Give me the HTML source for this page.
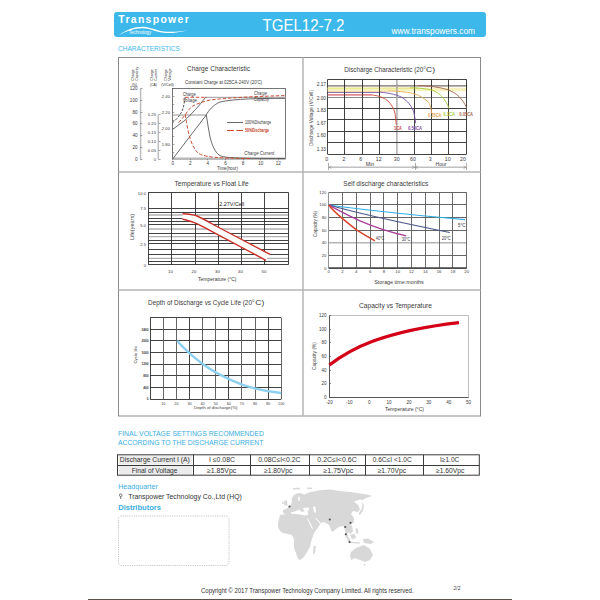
<!DOCTYPE html>
<html><head><meta charset="utf-8">
<style>
html,body{margin:0;padding:0;background:#fff;}
body{width:600px;height:600px;overflow:hidden;position:relative;font-family:"Liberation Sans",sans-serif;}
svg{position:absolute;left:0;top:0;}
</style></head><body>
<svg width="600" height="600" viewBox="0 0 600 600" font-family="'Liberation Sans', sans-serif">
<rect x="88" y="599" width="424" height="1" fill="#5a524a"/>
<rect x="114" y="12" width="372" height="25" rx="3" fill="#3db8ea"/>
<text x="262.5" y="31.2" font-size="16.5" fill="#fff" textLength="82" lengthAdjust="spacingAndGlyphs">TGEL12-7.2</text>
<text x="391.5" y="33.5" font-size="8.3" fill="#fff" textLength="83.5" lengthAdjust="spacingAndGlyphs">www.transpowers.com</text>
<g transform="translate(118.3,0) scale(0.92,1)">
<text x="0" y="23.4" font-size="11.4" fill="#fff" font-weight="bold" textLength="76.6" lengthAdjust="spacing">Transpower</text>
</g>
<path d="M119,35 C126,30 135,26.5 143,26.8 C152,27.2 158,31.5 167,31.8 C175,32 181,31 187,30.4 C181,31.8 175,33 167,33 C157,32.8 151,28.6 143,28.3 C135,28 127,31 119,35 Z" fill="#fff"/>
<text x="128.7" y="33.6" font-size="5.0" fill="#fff" textLength="22.6" lengthAdjust="spacingAndGlyphs">Technology</text>
<text x="118" y="51.3" font-size="7.6" fill="#3db8ea" textLength="62" lengthAdjust="spacingAndGlyphs">CHARACTERISTICS</text>
<rect x="118.5" y="57.5" width="362" height="358.5" fill="none" stroke="#8a8a8a" stroke-width="1"/>
<line x1="303" y1="57.5" x2="303" y2="416" stroke="#b4b4b4" stroke-width="1.5"/>
<line x1="118.5" y1="172" x2="480.5" y2="172" stroke="#b4b4b4" stroke-width="1.5"/>
<line x1="118.5" y1="290" x2="480.5" y2="290" stroke="#b4b4b4" stroke-width="1.5"/>
<text x="187" y="71" font-size="7.4" fill="#3a3a3a" textLength="63" lengthAdjust="spacingAndGlyphs">Charge Characteristic</text>
<text x="185" y="84" font-size="4.64" fill="#3a3a3a" textLength="77" lengthAdjust="spacingAndGlyphs">Constant Charge at 025CA-240V  (20'C)</text>
<text transform="translate(133.8,80.8) rotate(-90)" x="0" y="0" font-size="4.3" fill="#2a2a2a" text-anchor="start" textLength="11.6" lengthAdjust="spacingAndGlyphs">Charge</text>
<text transform="translate(138.3,80.8) rotate(-90)" x="0" y="0" font-size="4.3" fill="#2a2a2a" text-anchor="start" textLength="14.1" lengthAdjust="spacingAndGlyphs">Capacity</text>
<text x="131.7" y="86.3" font-size="4.3" fill="#2a2a2a" textLength="5.3" lengthAdjust="spacingAndGlyphs">(%)</text>
<text transform="translate(153.2,80.8) rotate(-90)" x="0" y="0" font-size="4.3" fill="#2a2a2a" text-anchor="start" textLength="11.6" lengthAdjust="spacingAndGlyphs">Charge</text>
<text transform="translate(157.2,80.8) rotate(-90)" x="0" y="0" font-size="4.3" fill="#2a2a2a" text-anchor="start" textLength="11.6" lengthAdjust="spacingAndGlyphs">Current</text>
<text x="150" y="86.3" font-size="4.3" fill="#2a2a2a" textLength="7" lengthAdjust="spacingAndGlyphs">(CA)</text>
<text transform="translate(167.4,80.8) rotate(-90)" x="0" y="0" font-size="4.3" fill="#2a2a2a" text-anchor="start" textLength="11.6" lengthAdjust="spacingAndGlyphs">Charge</text>
<text transform="translate(171.4,80.8) rotate(-90)" x="0" y="0" font-size="4.3" fill="#2a2a2a" text-anchor="start" textLength="12.5" lengthAdjust="spacingAndGlyphs">Voltage</text>
<text x="161.3" y="86.3" font-size="4.3" fill="#2a2a2a" textLength="12.4" lengthAdjust="spacingAndGlyphs">(V/Cell)</text>
<line x1="140.6" y1="88.5" x2="140.6" y2="159.5" stroke="#bdbdbd" stroke-width="1.5"/>
<line x1="140.3" y1="88.5" x2="142.3" y2="88.5" stroke="#666" stroke-width="0.6"/>
<text x="137.5" y="90.1" font-size="4.6" fill="#3a3a3a" text-anchor="end">120</text>
<line x1="140.3" y1="100.5" x2="142.3" y2="100.5" stroke="#666" stroke-width="0.6"/>
<text x="137.5" y="101.85" font-size="4.6" fill="#3a3a3a" text-anchor="end">100</text>
<line x1="140.3" y1="112.5" x2="142.3" y2="112.5" stroke="#666" stroke-width="0.6"/>
<text x="137.5" y="113.6" font-size="4.6" fill="#3a3a3a" text-anchor="end">80</text>
<line x1="140.3" y1="123.5" x2="142.3" y2="123.5" stroke="#666" stroke-width="0.6"/>
<text x="137.5" y="125.35" font-size="4.6" fill="#3a3a3a" text-anchor="end">60</text>
<line x1="140.3" y1="135.5" x2="142.3" y2="135.5" stroke="#666" stroke-width="0.6"/>
<text x="137.5" y="137.1" font-size="4.6" fill="#3a3a3a" text-anchor="end">40</text>
<line x1="140.3" y1="147.5" x2="142.3" y2="147.5" stroke="#666" stroke-width="0.6"/>
<text x="137.5" y="148.85" font-size="4.6" fill="#3a3a3a" text-anchor="end">20</text>
<line x1="140.3" y1="159.5" x2="142.3" y2="159.5" stroke="#666" stroke-width="0.6"/>
<text x="137.5" y="160.6" font-size="4.6" fill="#3a3a3a" text-anchor="end">0</text>
<line x1="158.3" y1="114.7" x2="158.3" y2="159.5" stroke="#bdbdbd" stroke-width="1.5"/>
<line x1="158.7" y1="114.5" x2="160.5" y2="114.5" stroke="#666" stroke-width="0.6"/>
<text x="156" y="116.2" font-size="4.2" fill="#3a3a3a" text-anchor="end">0.25</text>
<line x1="158.7" y1="123.5" x2="160.5" y2="123.5" stroke="#666" stroke-width="0.6"/>
<text x="156" y="125.10000000000001" font-size="4.2" fill="#3a3a3a" text-anchor="end">0.20</text>
<line x1="158.7" y1="132.5" x2="160.5" y2="132.5" stroke="#666" stroke-width="0.6"/>
<text x="156" y="134.0" font-size="4.2" fill="#3a3a3a" text-anchor="end">0.15</text>
<line x1="158.7" y1="141.5" x2="160.5" y2="141.5" stroke="#666" stroke-width="0.6"/>
<text x="156" y="142.9" font-size="4.2" fill="#3a3a3a" text-anchor="end">0.10</text>
<line x1="158.7" y1="150.5" x2="160.5" y2="150.5" stroke="#666" stroke-width="0.6"/>
<text x="156" y="151.8" font-size="4.2" fill="#3a3a3a" text-anchor="end">0.05</text>
<line x1="158.7" y1="159.5" x2="160.5" y2="159.5" stroke="#666" stroke-width="0.6"/>
<text x="156" y="160.7" font-size="4.2" fill="#3a3a3a" text-anchor="end">0</text>
<rect x="172.5" y="88.5" width="113" height="70.5" fill="none" stroke="#555" stroke-width="0.8"/>
<line x1="172.5" y1="96.5" x2="174.3" y2="96.5" stroke="#666" stroke-width="0.6"/>
<text x="170" y="97.8" font-size="4.2" fill="#3a3a3a" text-anchor="end">2.40</text>
<line x1="172.5" y1="112.5" x2="174.3" y2="112.5" stroke="#666" stroke-width="0.6"/>
<text x="170" y="113.8" font-size="4.2" fill="#3a3a3a" text-anchor="end">2.20</text>
<line x1="172.5" y1="128.5" x2="174.3" y2="128.5" stroke="#666" stroke-width="0.6"/>
<text x="170" y="129.8" font-size="4.2" fill="#3a3a3a" text-anchor="end">2.00</text>
<line x1="172.5" y1="144.5" x2="174.3" y2="144.5" stroke="#666" stroke-width="0.6"/>
<text x="170" y="145.8" font-size="4.2" fill="#3a3a3a" text-anchor="end">1.80</text>
<line x1="172.5" y1="104.5" x2="174.3" y2="104.5" stroke="#666" stroke-width="0.6"/>
<line x1="172.5" y1="120.5" x2="174.3" y2="120.5" stroke="#666" stroke-width="0.6"/>
<line x1="172.5" y1="136.5" x2="174.3" y2="136.5" stroke="#666" stroke-width="0.6"/>
<line x1="172.5" y1="152.5" x2="174.3" y2="152.5" stroke="#666" stroke-width="0.6"/>
<line x1="172.5" y1="159" x2="172.5" y2="160.3" stroke="#666" stroke-width="0.6"/>
<text x="172.7" y="164.5" font-size="4.6" fill="#3a3a3a" text-anchor="middle">0</text>
<line x1="190.5" y1="159" x2="190.5" y2="160.3" stroke="#666" stroke-width="0.6"/>
<text x="190.29999999999998" y="164.5" font-size="4.6" fill="#3a3a3a" text-anchor="middle">2</text>
<line x1="207.5" y1="159" x2="207.5" y2="160.3" stroke="#666" stroke-width="0.6"/>
<text x="207.89999999999998" y="164.5" font-size="4.6" fill="#3a3a3a" text-anchor="middle">4</text>
<line x1="225.5" y1="159" x2="225.5" y2="160.3" stroke="#666" stroke-width="0.6"/>
<text x="225.5" y="164.5" font-size="4.6" fill="#3a3a3a" text-anchor="middle">6</text>
<line x1="243.5" y1="159" x2="243.5" y2="160.3" stroke="#666" stroke-width="0.6"/>
<text x="243.1" y="164.5" font-size="4.6" fill="#3a3a3a" text-anchor="middle">8</text>
<line x1="260.5" y1="159" x2="260.5" y2="160.3" stroke="#666" stroke-width="0.6"/>
<text x="260.7" y="164.5" font-size="4.6" fill="#3a3a3a" text-anchor="middle">10</text>
<line x1="278.5" y1="159" x2="278.5" y2="160.3" stroke="#666" stroke-width="0.6"/>
<text x="278.3" y="164.5" font-size="4.6" fill="#3a3a3a" text-anchor="middle">12</text>
<text x="217" y="169.5" font-size="4.75" fill="#3a3a3a" textLength="21" lengthAdjust="spacingAndGlyphs">Time(hour)</text>
<line x1="172.7" y1="115" x2="206" y2="115" stroke="#b8b8b8" stroke-width="1.6"/>
<line x1="205" y1="97.3" x2="285.5" y2="97.3" stroke="#b0b0b0" stroke-width="1.3"/>
<line x1="172.5" y1="158.3" x2="285.5" y2="158.3" stroke="#b8b8b8" stroke-width="1.4"/>
<path d="M172.7,159 L206,115.3 C209,110 213,105 220,102 C235,98.6 260,98.4 285,98.4" stroke="#444" stroke-width="0.8" fill="none"/>
<path d="M172.7,129.3 L185.3,120 C192,113.5 199,106 205.5,97.4" stroke="#444" stroke-width="0.8" fill="none"/>
<path d="M206.3,115 C207.5,122 208.5,130 210,137 C212,145 215,152 219,155 C224,158 232,158.3 285,158.5" stroke="#444" stroke-width="0.8" fill="none"/>
<path d="M172.7,122.7 C175,120.5 179,117 182,111.3 C183.5,108 184.5,102 185,97.3" stroke="#3a3a3a" stroke-width="0.85" fill="none" stroke-dasharray="2.5,1.3"/>
<path d="M178.7,122.7 L185.3,114.7 C187,112 189,109 192,106.5 C196,104 202,102 210,100 C230,97.6 260,96.2 285,95.6" stroke="#c8472c" stroke-width="0.95" fill="none" stroke-dasharray="3.5,1.8"/>
<path d="M185.2,97.3 L207,97.3" stroke="#c8472c" stroke-width="0.95" fill="none" stroke-dasharray="3.5,1.8"/>
<path d="M185.3,114.7 C186.5,122 188,132 190,138 C192,145 195,150 198,153 C202,156 210,157.2 225,158 L250,158.5" stroke="#c8472c" stroke-width="0.95" fill="none" stroke-dasharray="3.5,1.8"/>
<line x1="227" y1="122.5" x2="243" y2="122.5" stroke="#444" stroke-width="0.8"/>
<text x="245" y="124.2" font-size="4.5" fill="#333" textLength="26" lengthAdjust="spacingAndGlyphs">100%Discharge</text>
<line x1="227" y1="130.5" x2="243" y2="130.5" stroke="#c8472c" stroke-width="1.1" stroke-dasharray="7,2.5"/>
<text x="245" y="132.4" font-size="4.5" fill="#c03a22" font-weight="bold" textLength="24" lengthAdjust="spacingAndGlyphs">50%Discharge</text>
<text x="254" y="94.7" font-size="4.54" fill="#3a3a3a" textLength="13" lengthAdjust="spacingAndGlyphs" font-style="italic">Charge</text>
<text x="254" y="100.9" font-size="4.54" fill="#3a3a3a" textLength="15" lengthAdjust="spacingAndGlyphs" font-style="italic">Capacity</text>
<text x="182.7" y="95.7" font-size="4.75" fill="#3a3a3a" textLength="13" lengthAdjust="spacingAndGlyphs">Charge</text>
<text x="182.7" y="102" font-size="4.75" fill="#3a3a3a" textLength="14.3" lengthAdjust="spacingAndGlyphs">Voltage</text>
<text x="244.3" y="155.3" font-size="4.64" fill="#3a3a3a" textLength="30" lengthAdjust="spacingAndGlyphs" font-style="italic">Charge Current</text>
<text x="344.3" y="72.3" font-size="7.4" fill="#3a3a3a" textLength="79" lengthAdjust="spacingAndGlyphs">Discharge Characteristic (20</text>
<text x="423.5" y="68.5" font-size="3.78" fill="#3a3a3a">0</text>
<text x="426" y="72.3" font-size="7.4" fill="#3a3a3a" textLength="9" lengthAdjust="spacingAndGlyphs">C)</text>
<text transform="translate(312.5,118) rotate(-90)" x="0" y="0" font-size="4.6" fill="#444" text-anchor="middle" textLength="56" lengthAdjust="spacingAndGlyphs">Discharge Voltage (V/Cell)</text>
<line x1="327.5" y1="79.4" x2="327.5" y2="154.3" stroke="#2e2e2e" stroke-width="0.9"/>
<line x1="344.5" y1="79.4" x2="344.5" y2="154.3" stroke="#2e2e2e" stroke-width="0.9"/>
<line x1="362.5" y1="79.4" x2="362.5" y2="154.3" stroke="#2e2e2e" stroke-width="0.9"/>
<line x1="379.5" y1="79.4" x2="379.5" y2="154.3" stroke="#2e2e2e" stroke-width="0.9"/>
<line x1="396.9" y1="79.4" x2="396.9" y2="154.3" stroke="#a8a8a8" stroke-width="1.4"/>
<line x1="414.5" y1="79.4" x2="414.5" y2="154.3" stroke="#2e2e2e" stroke-width="0.9"/>
<line x1="431.5" y1="79.4" x2="431.5" y2="154.3" stroke="#2e2e2e" stroke-width="0.9"/>
<line x1="448.5" y1="79.4" x2="448.5" y2="154.3" stroke="#2e2e2e" stroke-width="0.9"/>
<line x1="466.5" y1="79.4" x2="466.5" y2="154.3" stroke="#2e2e2e" stroke-width="0.9"/>
<line x1="327.7" y1="79.5" x2="466.5" y2="79.5" stroke="#2e2e2e" stroke-width="0.9"/>
<line x1="327.7" y1="108.5" x2="466.5" y2="108.5" stroke="#2e2e2e" stroke-width="0.9"/>
<line x1="327.7" y1="119.5" x2="466.5" y2="119.5" stroke="#2e2e2e" stroke-width="0.9"/>
<line x1="327.7" y1="131.5" x2="466.5" y2="131.5" stroke="#2e2e2e" stroke-width="0.9"/>
<line x1="327.7" y1="142.5" x2="466.5" y2="142.5" stroke="#2e2e2e" stroke-width="0.9"/>
<line x1="327.7" y1="154.5" x2="466.5" y2="154.5" stroke="#2e2e2e" stroke-width="0.9"/>
<text x="326" y="86.3" font-size="4.8" fill="#3a3a3a" text-anchor="end">2.17</text>
<text x="326" y="99.9" font-size="4.8" fill="#3a3a3a" text-anchor="end">2.00</text>
<text x="326" y="111.9" font-size="4.8" fill="#3a3a3a" text-anchor="end">1.83</text>
<text x="326" y="124.5" font-size="4.8" fill="#3a3a3a" text-anchor="end">1.67</text>
<text x="326" y="137" font-size="4.8" fill="#3a3a3a" text-anchor="end">1.60</text>
<text x="326" y="151" font-size="4.8" fill="#3a3a3a" text-anchor="end">1.33</text>
<text x="326.7" y="160.8" font-size="5.2" fill="#3a3a3a" text-anchor="middle">0</text>
<text x="344" y="160.8" font-size="5.2" fill="#3a3a3a" text-anchor="middle">2</text>
<text x="360.7" y="160.8" font-size="5.2" fill="#3a3a3a" text-anchor="middle">6</text>
<text x="378.7" y="160.8" font-size="5.2" fill="#3a3a3a" text-anchor="middle">12</text>
<text x="396.7" y="160.8" font-size="5.2" fill="#3a3a3a" text-anchor="middle">30</text>
<text x="413" y="160.8" font-size="5.2" fill="#3a3a3a" text-anchor="middle">60</text>
<text x="430.3" y="160.8" font-size="5.2" fill="#3a3a3a" text-anchor="middle">3</text>
<text x="447.7" y="160.8" font-size="5.2" fill="#3a3a3a" text-anchor="middle">10</text>
<text x="463" y="160.8" font-size="5.2" fill="#3a3a3a" text-anchor="middle">20</text>
<line x1="328.7" y1="167.3" x2="466.3" y2="167.3" stroke="#c0c0c0" stroke-width="1.4"/>
<line x1="328.5" y1="162.8" x2="328.5" y2="170" stroke="#777" stroke-width="0.6"/>
<line x1="415.5" y1="162.8" x2="415.5" y2="170" stroke="#777" stroke-width="0.6"/>
<line x1="466.5" y1="162.8" x2="466.5" y2="170" stroke="#777" stroke-width="0.6"/>
<path d="M331.5,166 L329.3,167.3 L331.5,168.6" stroke="#777" stroke-width="0.5" fill="none"/>
<path d="M412.2,166 L414.4,167.3 L412.2,168.6 M417.8,166 L415.6,167.3 L417.8,168.6" stroke="#777" stroke-width="0.5" fill="none"/>
<path d="M463.5,166 L465.7,167.3 L463.5,168.6" stroke="#777" stroke-width="0.5" fill="none"/>
<text x="370" y="166" font-size="4.6" fill="#404040" text-anchor="middle" textLength="8.5" lengthAdjust="spacingAndGlyphs">Min</text>
<text x="441" y="166" font-size="4.6" fill="#404040" text-anchor="middle" textLength="11" lengthAdjust="spacingAndGlyphs">Hour</text>
<line x1="327.7" y1="89.5" x2="466.3" y2="89.5" stroke="#f6f2c0" stroke-width="3.5"/>
<line x1="327.7" y1="88.2" x2="418" y2="88.2" stroke="#ecea90" stroke-width="1.4"/>
<line x1="327.7" y1="85.9" x2="466.3" y2="85.9" stroke="#7a6e68" stroke-width="1.3"/>
<line x1="327.7" y1="91.5" x2="388" y2="91.5" stroke="#f0c890" stroke-width="0.7"/>
<line x1="327.7" y1="92.5" x2="380" y2="92.5" stroke="#7860a8" stroke-width="0.9"/>
<line x1="327.7" y1="94.9" x2="372" y2="94.9" stroke="#e08a90" stroke-width="1.6"/>
<line x1="327.7" y1="97.5" x2="466.3" y2="97.5" stroke="#8a8a8a" stroke-width="1.0"/>
<line x1="344.5" y1="84" x2="344.5" y2="98" stroke="#2e2e2e" stroke-width="0.9"/>
<line x1="362.5" y1="84" x2="362.5" y2="98" stroke="#2e2e2e" stroke-width="0.9"/>
<line x1="379.5" y1="84" x2="379.5" y2="98" stroke="#2e2e2e" stroke-width="0.9"/>
<line x1="396.9" y1="84" x2="396.9" y2="98" stroke="#a8a8a8" stroke-width="1.4"/>
<line x1="414.5" y1="84" x2="414.5" y2="98" stroke="#2e2e2e" stroke-width="0.9"/>
<line x1="431.5" y1="84" x2="431.5" y2="98" stroke="#2e2e2e" stroke-width="0.9"/>
<line x1="448.5" y1="84" x2="448.5" y2="98" stroke="#2e2e2e" stroke-width="0.9"/>
<line x1="466.5" y1="84" x2="466.5" y2="98" stroke="#2e2e2e" stroke-width="0.9"/>
<path d="M418,85.6 C428,85.8 440,87 448.7,90 C455,92.5 459,96 462,100 C464.5,103.5 466,106 466.7,108.3" stroke="#a06448" stroke-width="0.9" fill="none"/>
<path d="M410,87.8 C420,87.9 430,89 435,91.3 C440,94 444,98 446,102 C447.5,104.5 448.3,106.5 448.7,108.3" stroke="#a8cc38" stroke-width="0.9" fill="none"/>
<path d="M388,90.8 C400,91.2 410,92.5 415,94 C420,95.5 424,98.5 427.7,101.3 C430,104 431,107 431.7,113.3" stroke="#eeaa50" stroke-width="0.9" fill="none"/>
<path d="M380,92.2 C390,93 398,95 403,98 C407,101 411,105 413,110 C414.3,113.5 415,118 415.7,123.3" stroke="#7a50a8" stroke-width="0.9" fill="none"/>
<path d="M372,94.9 C378,95.5 384,97.5 388,101 C391,104 393.5,107.5 395,113.3 C395.8,117 396,121 396.2,124.7" stroke="#cc4a38" stroke-width="0.9" fill="none"/>
<text x="394" y="129.6" font-size="4.64" fill="#cc4030" font-weight="bold" textLength="7.7" lengthAdjust="spacingAndGlyphs">1CA</text>
<text x="408" y="129.6" font-size="4.64" fill="#7a48a8" font-weight="bold" textLength="14" lengthAdjust="spacingAndGlyphs">0.55CA</text>
<text x="428" y="117.3" font-size="4.64" fill="#eea040" font-weight="bold" textLength="13.3" lengthAdjust="spacingAndGlyphs">0.25CA</text>
<text x="443.3" y="115.6" font-size="4.64" fill="#a8cc38" font-weight="bold" textLength="11.7" lengthAdjust="spacingAndGlyphs">0.1CA</text>
<text x="459.3" y="115.6" font-size="4.64" fill="#a06448" font-weight="bold" textLength="13.7" lengthAdjust="spacingAndGlyphs">0.05CA</text>
<text x="174.6" y="185.8" font-size="7.4" fill="#3a3a3a" textLength="74" lengthAdjust="spacingAndGlyphs">Temperature vs Float Life</text>
<text transform="translate(134,227) rotate(-90)" x="0" y="0" font-size="4.64" fill="#404040" text-anchor="middle" textLength="26" lengthAdjust="spacingAndGlyphs">Life(years)</text>
<line x1="148.4" y1="192.5" x2="288.3" y2="192.5" stroke="#2e2e2e" stroke-width="0.9"/>
<line x1="148.4" y1="208.5" x2="288.3" y2="208.5" stroke="#2e2e2e" stroke-width="0.9"/>
<line x1="148.4" y1="212.5" x2="288.3" y2="212.5" stroke="#2e2e2e" stroke-width="0.9"/>
<line x1="148.4" y1="215" x2="288.3" y2="215" stroke="#b0b0b0" stroke-width="1.3"/>
<line x1="148.4" y1="218.5" x2="288.3" y2="218.5" stroke="#2e2e2e" stroke-width="0.9"/>
<line x1="148.4" y1="221.5" x2="288.3" y2="221.5" stroke="#2e2e2e" stroke-width="0.9"/>
<line x1="148.4" y1="224.5" x2="288.3" y2="224.5" stroke="#2e2e2e" stroke-width="0.9"/>
<line x1="148.4" y1="229" x2="288.3" y2="229" stroke="#b0b0b0" stroke-width="1.3"/>
<line x1="148.4" y1="233.5" x2="288.3" y2="233.5" stroke="#2e2e2e" stroke-width="0.9"/>
<line x1="148.4" y1="236.7" x2="288.3" y2="236.7" stroke="#b0b0b0" stroke-width="1.3"/>
<line x1="148.4" y1="240.5" x2="288.3" y2="240.5" stroke="#2e2e2e" stroke-width="0.9"/>
<line x1="148.4" y1="243.5" x2="288.3" y2="243.5" stroke="#2e2e2e" stroke-width="0.9"/>
<line x1="148.4" y1="249.5" x2="288.3" y2="249.5" stroke="#2e2e2e" stroke-width="0.9"/>
<line x1="148.4" y1="254.5" x2="288.3" y2="254.5" stroke="#2e2e2e" stroke-width="0.9"/>
<line x1="148.4" y1="258.3" x2="288.3" y2="258.3" stroke="#b0b0b0" stroke-width="1.3"/>
<line x1="148.4" y1="261.5" x2="288.3" y2="261.5" stroke="#2e2e2e" stroke-width="0.9"/>
<line x1="148.4" y1="264.5" x2="288.3" y2="264.5" stroke="#2e2e2e" stroke-width="0.9"/>
<line x1="148.5" y1="192.3" x2="148.5" y2="264.7" stroke="#2e2e2e" stroke-width="0.9"/>
<line x1="171.5" y1="192.3" x2="171.5" y2="264.7" stroke="#2e2e2e" stroke-width="0.9"/>
<line x1="195.5" y1="192.3" x2="195.5" y2="264.7" stroke="#2e2e2e" stroke-width="0.9"/>
<line x1="218.5" y1="192.3" x2="218.5" y2="264.7" stroke="#2e2e2e" stroke-width="0.9"/>
<line x1="241.5" y1="192.3" x2="241.5" y2="264.7" stroke="#2e2e2e" stroke-width="0.9"/>
<line x1="264.5" y1="192.3" x2="264.5" y2="264.7" stroke="#2e2e2e" stroke-width="0.9"/>
<line x1="288.5" y1="192.3" x2="288.5" y2="264.7" stroke="#2e2e2e" stroke-width="0.9"/>
<text x="146" y="194.8" font-size="4.2" fill="#3a3a3a" text-anchor="end">10.0</text>
<text x="146" y="210" font-size="4.2" fill="#3a3a3a" text-anchor="end">7.5</text>
<text x="146" y="226.5" font-size="4.2" fill="#3a3a3a" text-anchor="end">5.0</text>
<text x="146" y="245.5" font-size="4.2" fill="#3a3a3a" text-anchor="end">2.5</text>
<text x="146" y="267" font-size="4.2" fill="#3a3a3a" text-anchor="end">0</text>
<text x="170.5" y="272.5" font-size="4.4" fill="#3a3a3a" text-anchor="middle">10</text>
<text x="194" y="272.5" font-size="4.4" fill="#3a3a3a" text-anchor="middle">20</text>
<text x="217.5" y="272.5" font-size="4.4" fill="#3a3a3a" text-anchor="middle">30</text>
<text x="240.5" y="272.5" font-size="4.4" fill="#3a3a3a" text-anchor="middle">40</text>
<text x="264" y="272.5" font-size="4.4" fill="#3a3a3a" text-anchor="middle">50</text>
<text x="198" y="281.3" font-size="4.6" fill="#3a3a3a" textLength="38.5" lengthAdjust="spacingAndGlyphs">Temperature (°C)</text>
<text x="219.3" y="205.7" font-size="5.6" fill="#222" textLength="25" lengthAdjust="spacingAndGlyphs">2.27V/Cell</text>
<path d="M182.5,213.8 C188,214 193,214.6 197,216 C203,218.5 208,221.5 214,225 L270,254.3 L266,260.3 L214,232.6 C205,228 199,224 193.5,222.3 C189,220.8 186,219.6 182.5,219.2 Z" fill="#fff" stroke="none"/>
<path d="M182.5,213.8 C188,214 193,214.6 197,216 C203,218.5 208,221.5 214,225 L270,254.3" stroke="#c83028" stroke-width="1.4" fill="none"/>
<path d="M182.5,219.2 C186,219.6 189,220.8 193.5,222.3 C199,224 205,228 214,232.6 L266,260.3" stroke="#c83028" stroke-width="1.4" fill="none"/>
<text x="343.3" y="185.7" font-size="7.4" fill="#3a3a3a" textLength="85" lengthAdjust="spacingAndGlyphs">Self discharge characteristics</text>
<text transform="translate(316.5,224) rotate(-90)" x="0" y="0" font-size="4.75" fill="#404040" text-anchor="middle" textLength="26" lengthAdjust="spacingAndGlyphs">Capacity (%)</text>
<line x1="328.7" y1="192.5" x2="466.7" y2="192.5" stroke="#555" stroke-width="0.9"/>
<line x1="328.7" y1="204.5" x2="466.7" y2="204.5" stroke="#555" stroke-width="0.9"/>
<line x1="328.7" y1="217.5" x2="466.7" y2="217.5" stroke="#555" stroke-width="0.9"/>
<line x1="328.7" y1="230.5" x2="466.7" y2="230.5" stroke="#555" stroke-width="0.9"/>
<line x1="328.7" y1="242.78" x2="466.7" y2="242.78" stroke="#b4b4b4" stroke-width="1.4"/>
<line x1="328.7" y1="255.5" x2="466.7" y2="255.5" stroke="#555" stroke-width="0.9"/>
<line x1="328.7" y1="268.5" x2="466.7" y2="268.5" stroke="#555" stroke-width="0.9"/>
<line x1="328.5" y1="192.3" x2="328.5" y2="268" stroke="#888" stroke-width="0.9"/>
<line x1="342.5" y1="192.3" x2="342.5" y2="268" stroke="#5a5a5a" stroke-width="0.9"/>
<line x1="356.5" y1="192.3" x2="356.5" y2="268" stroke="#5a5a5a" stroke-width="0.9"/>
<line x1="370.5" y1="192.3" x2="370.5" y2="268" stroke="#5a5a5a" stroke-width="0.9"/>
<line x1="383.5" y1="192.3" x2="383.5" y2="268" stroke="#5a5a5a" stroke-width="0.9"/>
<line x1="397.5" y1="192.3" x2="397.5" y2="268" stroke="#5a5a5a" stroke-width="0.9"/>
<line x1="411.5" y1="192.3" x2="411.5" y2="268" stroke="#5a5a5a" stroke-width="0.9"/>
<line x1="425.5" y1="192.3" x2="425.5" y2="268" stroke="#5a5a5a" stroke-width="0.9"/>
<line x1="439.5" y1="192.3" x2="439.5" y2="268" stroke="#5a5a5a" stroke-width="0.9"/>
<line x1="452.5" y1="192.3" x2="452.5" y2="268" stroke="#5a5a5a" stroke-width="0.9"/>
<line x1="466.5" y1="192.3" x2="466.5" y2="268" stroke="#5a5a5a" stroke-width="0.9"/>
<line x1="328.7" y1="268" x2="466.7" y2="268" stroke="#444" stroke-width="1.3"/>
<text x="326.5" y="193.8" font-size="4.3" fill="#3a3a3a" text-anchor="end">120</text>
<text x="326.5" y="206.42000000000002" font-size="4.3" fill="#3a3a3a" text-anchor="end">100</text>
<text x="326.5" y="219.04000000000002" font-size="4.3" fill="#3a3a3a" text-anchor="end">80</text>
<text x="326.5" y="231.66000000000003" font-size="4.3" fill="#3a3a3a" text-anchor="end">60</text>
<text x="326.5" y="244.28" font-size="4.3" fill="#3a3a3a" text-anchor="end">40</text>
<text x="326.5" y="256.9" font-size="4.3" fill="#3a3a3a" text-anchor="end">20</text>
<text x="326.5" y="269.52" font-size="4.3" fill="#3a3a3a" text-anchor="end">0</text>
<text x="328.7" y="272.9" font-size="4.3" fill="#3a3a3a" text-anchor="middle">0</text>
<text x="342.5" y="272.9" font-size="4.3" fill="#3a3a3a" text-anchor="middle">2</text>
<text x="356.3" y="272.9" font-size="4.3" fill="#3a3a3a" text-anchor="middle">4</text>
<text x="370.1" y="272.9" font-size="4.3" fill="#3a3a3a" text-anchor="middle">6</text>
<text x="383.9" y="272.9" font-size="4.3" fill="#3a3a3a" text-anchor="middle">8</text>
<text x="397.7" y="272.9" font-size="4.3" fill="#3a3a3a" text-anchor="middle">10</text>
<text x="411.5" y="272.9" font-size="4.3" fill="#3a3a3a" text-anchor="middle">12</text>
<text x="425.3" y="272.9" font-size="4.3" fill="#3a3a3a" text-anchor="middle">14</text>
<text x="439.1" y="272.9" font-size="4.3" fill="#3a3a3a" text-anchor="middle">16</text>
<text x="452.9" y="272.9" font-size="4.3" fill="#3a3a3a" text-anchor="middle">18</text>
<text x="466.7" y="272.9" font-size="4.3" fill="#3a3a3a" text-anchor="middle">20</text>
<text x="374.3" y="283.5" font-size="4.8" fill="#3a3a3a" textLength="49.5" lengthAdjust="spacingAndGlyphs">Storage time:months</text>
<path d="M328.7,205 C360,209.5 420,215.5 465,219.7" stroke="#30aee6" stroke-width="1.2" fill="none"/>
<path d="M328.7,205 C350,211 380,218.5 449.7,232.5" stroke="#4a5888" stroke-width="1.2" fill="none"/>
<path d="M328.7,205 C345,214 370,228 406.3,235.8" stroke="#a8409a" stroke-width="1.3" fill="none"/>
<path d="M328.7,205 C334,212 345,221 356.5,229.8 C363,234 369,237.5 375,240.8" stroke="#d8442a" stroke-width="1.5" fill="none"/>
<text x="375.8" y="239.5" font-size="4.54" fill="#3a3a3a" textLength="8.5" lengthAdjust="spacingAndGlyphs">40°C</text>
<text x="401.7" y="241" font-size="4.54" fill="#3a3a3a" textLength="8.5" lengthAdjust="spacingAndGlyphs">30°C</text>
<text x="441.7" y="240.3" font-size="4.54" fill="#3a3a3a" textLength="9" lengthAdjust="spacingAndGlyphs">20°C</text>
<text x="458" y="226.5" font-size="4.54" fill="#3a3a3a" textLength="7.5" lengthAdjust="spacingAndGlyphs">5°C</text>
<text x="148" y="305.3" font-size="7.4" fill="#3a3a3a" textLength="104" lengthAdjust="spacingAndGlyphs">Depth of Discharge vs Cycle Life (20</text>
<text x="252.3" y="301.5" font-size="3.78" fill="#3a3a3a">0</text>
<text x="255.3" y="305.3" font-size="7.4" fill="#3a3a3a" textLength="9" lengthAdjust="spacingAndGlyphs">C)</text>
<text transform="translate(137.2,354.8) rotate(-90)" x="0" y="0" font-size="4.3" fill="#333" text-anchor="middle" textLength="17.5" lengthAdjust="spacingAndGlyphs">Cycle life</text>
<line x1="150.2" y1="317.5" x2="281.2" y2="317.5" stroke="#2e2e2e" stroke-width="0.9"/>
<line x1="150.2" y1="329.5" x2="281.2" y2="329.5" stroke="#2e2e2e" stroke-width="0.9"/>
<line x1="150.2" y1="340.5" x2="281.2" y2="340.5" stroke="#2e2e2e" stroke-width="0.9"/>
<line x1="150.2" y1="352.5" x2="281.2" y2="352.5" stroke="#2e2e2e" stroke-width="0.9"/>
<line x1="150.2" y1="364.5" x2="281.2" y2="364.5" stroke="#2e2e2e" stroke-width="0.9"/>
<line x1="150.2" y1="375.5" x2="281.2" y2="375.5" stroke="#2e2e2e" stroke-width="0.9"/>
<line x1="150.2" y1="387.5" x2="281.2" y2="387.5" stroke="#2e2e2e" stroke-width="0.9"/>
<line x1="150.2" y1="399.5" x2="281.2" y2="399.5" stroke="#2e2e2e" stroke-width="0.9"/>
<line x1="150.5" y1="317.7" x2="150.5" y2="399.2" stroke="#2e2e2e" stroke-width="0.9"/>
<line x1="163.5" y1="317.7" x2="163.5" y2="399.2" stroke="#555" stroke-width="0.9"/>
<line x1="176.5" y1="317.7" x2="176.5" y2="399.2" stroke="#555" stroke-width="0.9"/>
<line x1="189.5" y1="317.7" x2="189.5" y2="399.2" stroke="#2e2e2e" stroke-width="0.9"/>
<line x1="202.5" y1="317.7" x2="202.5" y2="399.2" stroke="#555" stroke-width="0.9"/>
<line x1="215.5" y1="317.7" x2="215.5" y2="399.2" stroke="#555" stroke-width="0.9"/>
<line x1="228.5" y1="317.7" x2="228.5" y2="399.2" stroke="#2e2e2e" stroke-width="0.9"/>
<line x1="241.5" y1="317.7" x2="241.5" y2="399.2" stroke="#555" stroke-width="0.9"/>
<line x1="255.5" y1="317.7" x2="255.5" y2="399.2" stroke="#555" stroke-width="0.9"/>
<line x1="268.5" y1="317.7" x2="268.5" y2="399.2" stroke="#2e2e2e" stroke-width="0.9"/>
<line x1="281.5" y1="317.7" x2="281.5" y2="399.2" stroke="#555" stroke-width="0.9"/>
<text x="148.5" y="330.53999999999996" font-size="3.2" fill="#3a3a3a" text-anchor="end" font-weight="bold">2400</text>
<text x="148.5" y="342.18" font-size="3.2" fill="#3a3a3a" text-anchor="end" font-weight="bold">2000</text>
<text x="148.5" y="353.82" font-size="3.2" fill="#3a3a3a" text-anchor="end" font-weight="bold">1600</text>
<text x="148.5" y="365.46" font-size="3.2" fill="#3a3a3a" text-anchor="end" font-weight="bold">1200</text>
<text x="148.5" y="377.09999999999997" font-size="3.2" fill="#3a3a3a" text-anchor="end" font-weight="bold">800</text>
<text x="148.5" y="388.73999999999995" font-size="3.2" fill="#3a3a3a" text-anchor="end" font-weight="bold">400</text>
<text x="148.5" y="400.38" font-size="3.2" fill="#3a3a3a" text-anchor="end" font-weight="bold">0</text>
<text x="163.29999999999998" y="404.6" font-size="3.7" fill="#3a3a3a" text-anchor="middle">10</text>
<text x="176.39999999999998" y="404.6" font-size="3.7" fill="#3a3a3a" text-anchor="middle">20</text>
<text x="189.5" y="404.6" font-size="3.7" fill="#3a3a3a" text-anchor="middle">30</text>
<text x="202.6" y="404.6" font-size="3.7" fill="#3a3a3a" text-anchor="middle">40</text>
<text x="215.7" y="404.6" font-size="3.7" fill="#3a3a3a" text-anchor="middle">50</text>
<text x="228.79999999999998" y="404.6" font-size="3.7" fill="#3a3a3a" text-anchor="middle">60</text>
<text x="241.89999999999998" y="404.6" font-size="3.7" fill="#3a3a3a" text-anchor="middle">70</text>
<text x="255.0" y="404.6" font-size="3.7" fill="#3a3a3a" text-anchor="middle">80</text>
<text x="268.09999999999997" y="404.6" font-size="3.7" fill="#3a3a3a" text-anchor="middle">90</text>
<text x="281.2" y="404.6" font-size="3.7" fill="#3a3a3a" text-anchor="middle">100</text>
<text x="194" y="409" font-size="4.32" fill="#3a3a3a" textLength="43.5" lengthAdjust="spacingAndGlyphs">Depth of discharge(%)</text>
<path d="M177.2,340.7 C185,350 192,356 203,364.2 C215,373 225,378 242.7,384.9 C255,389 268,391.5 281.2,393" stroke="#8ccfee" stroke-width="2.4" fill="none"/>
<text x="359" y="308" font-size="7.4" fill="#3a3a3a" textLength="73" lengthAdjust="spacingAndGlyphs">Capacity vs Temperature</text>
<text transform="translate(316,356) rotate(-90)" x="0" y="0" font-size="4.75" fill="#404040" text-anchor="middle" textLength="28" lengthAdjust="spacingAndGlyphs">Capacity (%)</text>
<line x1="329.4" y1="315.5" x2="468.6" y2="315.5" stroke="#b0b0b0" stroke-width="0.8"/>
<line x1="468.5" y1="315.4" x2="468.5" y2="397.4" stroke="#b0b0b0" stroke-width="0.8"/>
<line x1="329.5" y1="315.4" x2="329.5" y2="397.4" stroke="#444" stroke-width="0.9"/>
<line x1="329.4" y1="397.5" x2="468.6" y2="397.5" stroke="#444" stroke-width="0.9"/>
<line x1="329.4" y1="315.5" x2="331" y2="315.5" stroke="#444" stroke-width="0.6"/>
<text x="326.6" y="317.0" font-size="4.5" fill="#3a3a3a" text-anchor="end">120</text>
<line x1="329.4" y1="329.5" x2="331" y2="329.5" stroke="#444" stroke-width="0.6"/>
<text x="326.6" y="330.67" font-size="4.5" fill="#3a3a3a" text-anchor="end">100</text>
<line x1="329.4" y1="342.5" x2="331" y2="342.5" stroke="#444" stroke-width="0.6"/>
<text x="326.6" y="344.34" font-size="4.5" fill="#3a3a3a" text-anchor="end">80</text>
<line x1="329.4" y1="356.5" x2="331" y2="356.5" stroke="#444" stroke-width="0.6"/>
<text x="326.6" y="358.01" font-size="4.5" fill="#3a3a3a" text-anchor="end">60</text>
<line x1="329.4" y1="370.5" x2="331" y2="370.5" stroke="#444" stroke-width="0.6"/>
<text x="326.6" y="371.68" font-size="4.5" fill="#3a3a3a" text-anchor="end">40</text>
<line x1="329.4" y1="383.5" x2="331" y2="383.5" stroke="#444" stroke-width="0.6"/>
<text x="326.6" y="385.35" font-size="4.5" fill="#3a3a3a" text-anchor="end">20</text>
<line x1="329.4" y1="397.5" x2="331" y2="397.5" stroke="#444" stroke-width="0.6"/>
<text x="326.6" y="399.02" font-size="4.5" fill="#3a3a3a" text-anchor="end">0</text>
<text x="329.4" y="404" font-size="4.6" fill="#3a3a3a" text-anchor="middle">-20</text>
<text x="349.286" y="404" font-size="4.6" fill="#3a3a3a" text-anchor="middle">-10</text>
<text x="369.17199999999997" y="404" font-size="4.6" fill="#3a3a3a" text-anchor="middle">0</text>
<text x="389.058" y="404" font-size="4.6" fill="#3a3a3a" text-anchor="middle">10</text>
<text x="408.94399999999996" y="404" font-size="4.6" fill="#3a3a3a" text-anchor="middle">20</text>
<text x="428.83" y="404" font-size="4.6" fill="#3a3a3a" text-anchor="middle">30</text>
<text x="448.716" y="404" font-size="4.6" fill="#3a3a3a" text-anchor="middle">40</text>
<text x="468.602" y="404" font-size="4.6" fill="#3a3a3a" text-anchor="middle">50</text>
<text x="385" y="410.6" font-size="4.8" fill="#3a3a3a" textLength="39" lengthAdjust="spacingAndGlyphs">Temperature (°C)</text>
<path d="M329.4,365 C345,353 360,346 372,341.5 C395,333 420,327 459,322.6" stroke="#d40018" stroke-width="3.3" fill="none"/>
<text x="118" y="435.8" font-size="7.3" fill="#3aaee0" textLength="146" lengthAdjust="spacingAndGlyphs">FINAL VOLTAGE SETTINGS RECOMMENDED</text>
<text x="118" y="444.7" font-size="7.3" fill="#3aaee0" textLength="145.3" lengthAdjust="spacingAndGlyphs">ACCORDING TO THE DISCHARGE CURRENT</text>
<rect x="118.8" y="455.5" width="73.5" height="9" fill="#ececec"/>
<rect x="118.8" y="466" width="73.5" height="8.8" fill="#ececec"/>
<rect x="117.5" y="454.8" width="361.8" height="20.4" fill="none" stroke="#3a3a3a" stroke-width="1"/>
<line x1="117.5" y1="465.5" x2="479.3" y2="465.5" stroke="#3a3a3a" stroke-width="1"/>
<line x1="193.5" y1="454.8" x2="193.5" y2="475.2" stroke="#3a3a3a" stroke-width="1"/>
<line x1="250.5" y1="454.8" x2="250.5" y2="475.2" stroke="#3a3a3a" stroke-width="1"/>
<line x1="309.5" y1="454.8" x2="309.5" y2="475.2" stroke="#3a3a3a" stroke-width="1"/>
<line x1="365.5" y1="454.8" x2="365.5" y2="475.2" stroke="#3a3a3a" stroke-width="1"/>
<line x1="423.5" y1="454.8" x2="423.5" y2="475.2" stroke="#3a3a3a" stroke-width="1"/>
<text x="119.8" y="461.8" font-size="7.0" fill="#333" textLength="70" lengthAdjust="spacingAndGlyphs">Discharge Current I (A)</text>
<text x="131.7" y="472.5" font-size="7.0" fill="#333" textLength="45.8" lengthAdjust="spacingAndGlyphs">Final of Voltage</text>
<text x="209" y="462.3" font-size="7.0" fill="#333" textLength="26" lengthAdjust="spacingAndGlyphs">I ≤0.08C</text>
<text x="258.3" y="462.3" font-size="7.0" fill="#333" textLength="42.2" lengthAdjust="spacingAndGlyphs">0.08C≤I&lt;0.2C</text>
<text x="317.3" y="462.3" font-size="7.0" fill="#333" textLength="39.4" lengthAdjust="spacingAndGlyphs">0.2C≤I&lt;0.6C</text>
<text x="372.7" y="462.3" font-size="7.0" fill="#333" textLength="39.0" lengthAdjust="spacingAndGlyphs">0.6C≤I &lt;1.0C</text>
<text x="440" y="462.3" font-size="7.0" fill="#333" textLength="19.3" lengthAdjust="spacingAndGlyphs">I≥1.0C</text>
<text x="207" y="472.5" font-size="7.0" fill="#333" textLength="29.3" lengthAdjust="spacingAndGlyphs">≥1.85Vpc</text>
<text x="264" y="472.5" font-size="7.0" fill="#333" textLength="28.5" lengthAdjust="spacingAndGlyphs">≥1.80Vpc</text>
<text x="323.3" y="472.5" font-size="7.0" fill="#333" textLength="30.0" lengthAdjust="spacingAndGlyphs">≥1.75Vpc</text>
<text x="377.7" y="472.5" font-size="7.0" fill="#333" textLength="28.3" lengthAdjust="spacingAndGlyphs">≥1.70Vpc</text>
<text x="436" y="472.5" font-size="7.0" fill="#333" textLength="28.3" lengthAdjust="spacingAndGlyphs">≥1.60Vpc</text>
<text x="118.2" y="488.5" font-size="6.5" fill="#3aaee0" textLength="39.6" lengthAdjust="spacingAndGlyphs">Headquarter</text>
<path d="M120.7,499 L120.7,496.5" stroke="#444" stroke-width="0.7" fill="none"/>
<circle cx="120.7" cy="495.2" r="1.3" fill="none" stroke="#444" stroke-width="0.7"/>
<text x="128.2" y="499" font-size="6.4" fill="#333" textLength="113.6" lengthAdjust="spacingAndGlyphs">Transpower Technology Co.,Ltd (HQ)</text>
<text x="118.2" y="510" font-size="6.8" fill="#3aaee0" font-weight="bold" textLength="42.7" lengthAdjust="spacingAndGlyphs">Distributors</text>
<rect x="118.5" y="516" width="110.5" height="49.5" rx="3" fill="none" stroke="#9a9a9a" stroke-width="0.6" stroke-dasharray="0.9,0.9"/>
<path d="M291,505 L292,501 L291.5,499 L294,495 L297,493.5 L300,493 L304,494.5 L310,492 L316,491 L322,490 L330,489.5 L340,491 L350,492 L360,493.5 L367,494.5 L372,496 L366,498 L363,500 L360,499.5 L354,501.5 L358,505 L360,509 L358,512 L353,511 L351,514 L354,518 L354,522 L351,524.5 L352.5,528 L353,531 L350.5,534 L348.5,532 L347.5,534 L348.5,538 L350,542 L348,541 L345.5,535 L345,530 L343.5,526 L340,526.5 L337,528 L335,530 L332,532 L329,525 L324,522 L321,523 L317,529 L314,533 L311,542 L310,547 L307,552 L304,557 L300,560 L298,559 L296,553 L294,548 L294,539 L292,535 L283,533 L280,531 L278,527 L278,523 L280,515 L286,514 L283,513 L283,510 L286,509 L291,505 Z" fill="#d8d8d8"/>
<path d="M290.5,512.5 L295,511.5 L299,509.5 L302,512 L307,510.5 L308.5,514.5 L305,515.5 L300,514.5 L295,514 L291,513.5 Z" fill="#fff"/>
<path d="M303,508 L309,507.5 L309,510.5 L304,511 Z" fill="#fff"/>
<path d="M313,506.5 L315.5,507 L316,513 L314,512 Z" fill="#fff"/>
<path d="M307,518.5 L308,518.5 L313,528.5 L312,529 Z" fill="#fff"/>
<path d="M315,518 L316,518 L321,523 L320,523.5 Z" fill="#fff"/>
<path d="M298,497 L299.5,496.5 L300,501 L298.5,500.5 Z" fill="#fff"/>
<path d="M284,500.5 L287,500.5 L287.5,505.5 L284.5,505.5 Z" fill="#d8d8d8"/>
<path d="M282,502 L283.5,502 L283.5,504 L282,504 Z" fill="#d8d8d8"/>
<path d="M362,502 L364,505 L363,511 L360,515 L358.5,514 L361.5,509 L362.5,505 Z" fill="#d8d8d8"/>
<path d="M313.5,546 L315.8,546 L315,553 L313,554 Z" fill="#d8d8d8"/>
<path d="M351,552 L356,548 L361,546 L364,545 L367,547 L370,549 L373,555 L370,560 L365,562 L360,560 L355,558 L351,560 L350,555 Z" fill="#d8d8d8"/>
<path d="M350,534.5 L355,534 L356,538 L352,539.5 Z" fill="#d8d8d8"/>
<path d="M363,539 L368,538.5 L374,542 L371,544 L364,543 Z" fill="#d8d8d8"/>
<path d="M355.5,528 L358,529 L358.5,534 L356,533 Z" fill="#d8d8d8"/>
<path d="M346.5,535 L350.5,540 L349.5,542 L345.5,537 Z" fill="#d8d8d8"/>
<path d="M350,541.5 L360,542.5 L359.5,543.7 L350,543 Z" fill="#d8d8d8"/>
<path d="M363.5,564 L365.5,564 L364.5,566 Z" fill="#d8d8d8"/>
<path d="M293,488 L300,487.8 L300,489.2 L293,489.5 Z" fill="#d8d8d8"/>
<path d="M307,487.5 L312,487.5 L312,489 L307,489 Z" fill="#d8d8d8"/>
<circle cx="289.5" cy="506.5" r="1.1" fill="#555"/>
<circle cx="329.8" cy="519.5" r="1.1" fill="#555"/>
<circle cx="350.5" cy="522.8" r="1.1" fill="#555"/>
<circle cx="345.2" cy="527" r="1.1" fill="#555"/>
<circle cx="345.8" cy="534.3" r="1.1" fill="#555"/>
<circle cx="349.5" cy="542" r="1.1" fill="#555"/>
<text x="201" y="592.6" font-size="6.4" fill="#333" textLength="212.6" lengthAdjust="spacingAndGlyphs">Copyright © 2017 Transpower Technology Company Limited. All rights reserved.</text>
<text x="453.5" y="590" font-size="5.5" fill="#444" textLength="7" lengthAdjust="spacingAndGlyphs">2/2</text>
</svg></body></html>
